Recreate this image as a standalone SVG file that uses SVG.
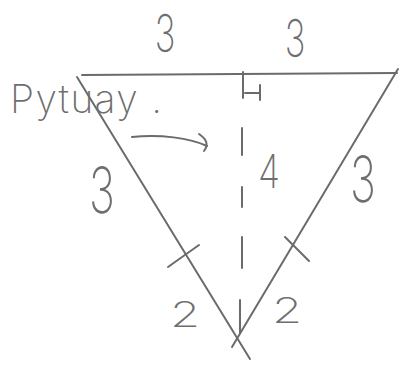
<svg xmlns="http://www.w3.org/2000/svg" width="406" height="372" viewBox="0 0 406 372">
<style>
.ln{stroke:#6b6b6b;stroke-width:2;fill:none;stroke-linecap:round;stroke-linejoin:round}
.hw{fill:#6e6e6e;font-family:Inter,'Liberation Sans',sans-serif;font-weight:200;text-anchor:middle}
</style>
<rect width="406" height="372" fill="#ffffff"/>
<g id="triangle">
<path class="ln" d="M82,75 L397,73"/>
<path class="ln" d="M77,77 L250,359"/>
<path class="ln" d="M398,69 L232,347"/>
<path class="ln" d="M168,267 L199,245"/>
<path class="ln" d="M285,237 L309,261"/>
</g>
<g id="height">
<path class="ln" d="M243,72 L243,98 M242,128 L242,155 M242,187 L242,207 M242,237 L242,268 M240,300 L240,333"/>
<path class="ln" d="M245,93 L260,93 M260,85 L260,100"/>
</g>
<g id="labels">
<text class="hw" font-size="52" transform="translate(165,52) scale(0.67,1)">3</text>
<text class="hw" font-size="52" transform="translate(295,57) scale(0.67,1)">3</text>
<text class="hw" font-size="64" transform="translate(102,213) scale(0.68,1)">3</text>
<text class="hw" font-size="64" transform="translate(363,202) scale(0.68,1)">3</text>
<text class="hw" font-size="46" transform="translate(269,188) scale(0.78,1)">4</text>
<text class="hw" font-size="35" transform="translate(185,327) scale(1.4,1)">2</text>
<text class="hw" font-size="35" transform="translate(287,323) scale(1.4,1)">2</text>
</g>
<g id="note">
<text x="10" y="113" font-size="39" fill="#6e6e6e" font-family="Inter,'Liberation Sans',sans-serif" font-weight="200" textLength="152" lengthAdjust="spacing" xml:space="preserve">Pytuay .</text>
</g>
<g id="connectors">
<path class="ln" d="M132,137 C160,134 190,138 207,146"/>
<path class="ln" d="M199,134 Q211,142 204,151"/>
</g>
</svg>
